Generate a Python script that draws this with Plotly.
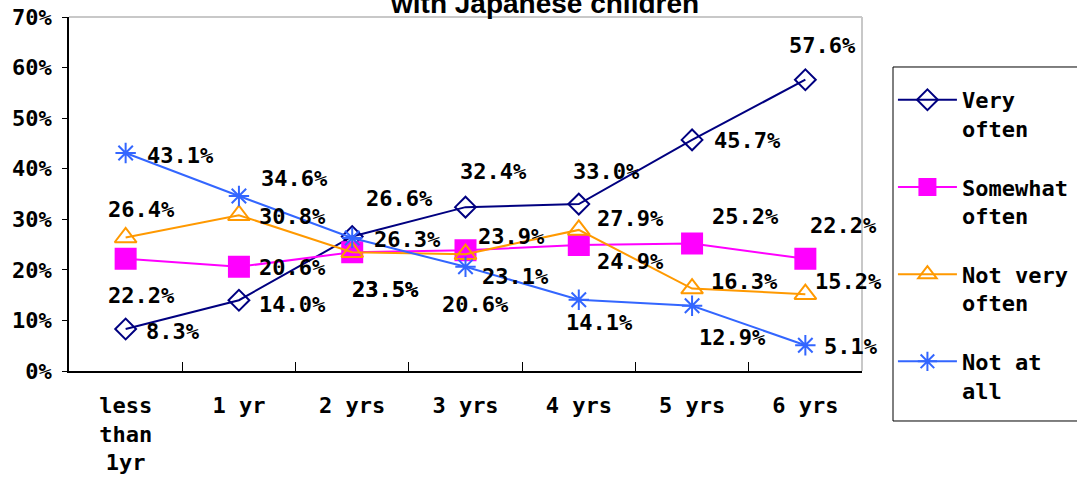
import plotly.graph_objects as go

# Age groups (x categories) and the four response series, in percent
categories = ["less<br>than<br>1yr", "1 yr", "2 yrs", "3 yrs", "4 yrs", "5 yrs", "6 yrs"]
very_often = [8.3, 14.0, 26.6, 32.4, 33.0, 45.7, 57.6]
somewhat_often = [22.2, 20.6, 23.5, 23.9, 24.9, 25.2, 22.2]
not_very_often = [26.4, 30.8, 23.5, 23.1, 27.9, 16.3, 15.2]
not_at_all = [43.1, 34.6, 26.3, 20.6, 14.1, 12.9, 5.1]

series_names = ["Very<br>often", "Somewhat<br>often", "Not very<br>often", "Not at<br>all"]
y_ticks = [0, 10, 20, 30, 40, 50, 60, 70]

# styling per series
colors = ["#000080", "#FF00FF", "#FF9900", "#3366FF"]
symbols = ["diamond-open", "square", "triangle-up-open", "asterisk-open"]
sizes = [16, 20, 19, 17]

# pixel offsets of each value label relative to its point (dx right, dy up)
label_offsets = [
    [(47, -2), (54, -4), (47, 38), (28, 36), (28, 33), (55, -1), (17, 34)],
    [(16, -37), (54, -1), (33, -37), (46, 14), (52, -16), (53, 27), (38, 33)],
    [(16, 28), (54, -1), (33, -37), (50, -22), (52, 11), (52, 7), (43, 13)],
    [(55, -2), (56, 18), (55, -1), (10, -38), (21, -23), (40, -32), (46, -1)],
]

FONT = "DejaVu Sans Mono"
data = [very_often, somewhat_often, not_very_often, not_at_all]

fig = go.Figure()
for i, vals in enumerate(data):
    fig.add_trace(go.Scatter(
        x=categories, y=vals, name=series_names[i], mode="lines+markers",
        legendgroup=f"g{i}",
        line=dict(color=colors[i], width=2),
        marker=dict(symbol=symbols[i], size=sizes[i], color=colors[i],
                    line=dict(color=colors[i], width=2)),
        cliponaxis=False,
    ))

annotations = []
for i, vals in enumerate(data):
    for j, v in enumerate(vals):
        dx, dy = label_offsets[i][j]
        annotations.append(dict(
            x=categories[j], y=v, xref="x", yref="y", text=f"{v:.1f}%",
            showarrow=False, xshift=dx, yshift=dy,
            font=dict(family=FONT, size=22, color="black", weight="bold"),
        ))

# chart title, partly above the visible page
annotations.append(dict(
    x=0.6, y=1, xref="paper", yref="paper", yanchor="bottom", yshift=-4,
    text="with Japanese children", showarrow=False,
    font=dict(family="Liberation Sans", size=28, color="black", weight="bold"),
))

fig.update_layout(
    width=1077, height=482,
    margin=dict(l=69, r=215, t=17, b=111, autoexpand=False),
    paper_bgcolor="white", plot_bgcolor="white",
    showlegend=True,
    font=dict(family=FONT, size=22, color="black", weight="bold"),
    annotations=annotations,
    legend=dict(
        x=1.039, y=0.825, xanchor="left", yanchor="top",
        borderwidth=0, bgcolor="rgba(0,0,0,0)",
        tracegroupgap=27, itemwidth=59, valign="top",
        font=dict(family=FONT, size=22, color="black", weight="bold"),
    ),
    shapes=[
        # light frame on the top and right of the plot area
        dict(type="line", xref="paper", yref="paper", x0=0, x1=1, y0=1, y1=1,
             line=dict(color="#C8C8C8", width=2)),
        dict(type="line", xref="paper", yref="paper", x0=1, x1=1, y0=0, y1=1,
             line=dict(color="#C8C8C8", width=2)),
        # legend frame
        dict(type="rect", xref="paper", yref="paper", x0=1.0391, x1=1.285,
             y0=-0.1412, y1=0.8588, line=dict(color="black", width=1),
             layer="below"),
    ],
)

fig.update_xaxes(
    type="category", range=[-0.5, 6.5],
    showline=True, linecolor="black", linewidth=1.5,
    ticks="inside", tickson="boundaries", ticklen=9, tickcolor="black",
    showgrid=False, zeroline=False, ticklabelstandoff=14,
)
fig.update_yaxes(
    range=[0, 70], tickvals=y_ticks, ticktext=[f"{t}%" for t in y_ticks],
    showline=True, linecolor="black", linewidth=1.5,
    ticks="outside", ticklen=5, tickcolor="black",
    showgrid=False, zeroline=False, ticklabelstandoff=6,
)

fig.write_html("out.html")
